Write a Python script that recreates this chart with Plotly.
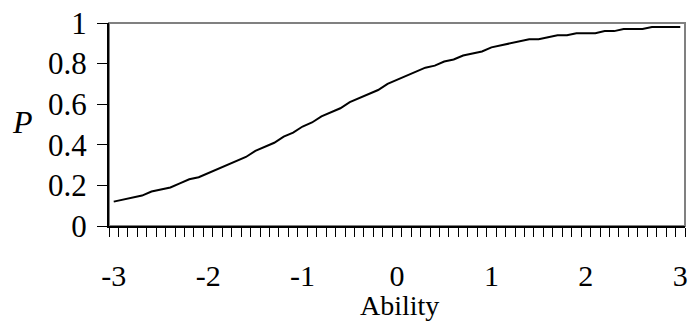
import plotly.graph_objects as go

ability = [round(-3 + 0.1 * i, 1) for i in range(61)]
prob = [0.12, 0.13, 0.14, 0.15, 0.17, 0.18, 0.19, 0.21, 0.23, 0.24,
        0.26, 0.28, 0.30, 0.32, 0.34, 0.37, 0.39, 0.41, 0.44, 0.46,
        0.49, 0.51, 0.54, 0.56, 0.58, 0.61, 0.63, 0.65, 0.67, 0.70,
        0.72, 0.74, 0.76, 0.78, 0.79, 0.81, 0.82, 0.84, 0.85, 0.86,
        0.88, 0.89, 0.90, 0.91, 0.92, 0.92, 0.93, 0.94, 0.94, 0.95,
        0.95, 0.95, 0.96, 0.96, 0.97, 0.97, 0.97, 0.98, 0.98, 0.98,
        0.98]
x_ticks = [-3, -2, -1, 0, 1, 2, 3]
y_ticks = [0, 0.2, 0.4, 0.6, 0.8, 1]
y_labels = ["0", "0.2", "0.4", "0.6", "0.8", "1"]

FONT = "Liberation Serif"

fig = go.Figure()
fig.add_trace(go.Scatter(x=ability, y=prob, mode="lines",
                         line=dict(color="black", width=2), showlegend=False))

fig.update_layout(
    width=691, height=322,
    margin=dict(l=109, r=3, t=23, b=96),
    paper_bgcolor="white", plot_bgcolor="white",
    font=dict(family=FONT, size=28, color="black"),
    xaxis=dict(
        range=[-3.05, 3.05], tickmode="array", tickvals=x_ticks,
        ticktext=[str(v) for v in x_ticks], ticks="",
        ticklabelstandoff=22,
        showgrid=False, zeroline=False,
        showline=True, linecolor="black", linewidth=2,
        minor=dict(tick0=-3.05, dtick=0.1, ticks="outside", ticklen=9,
                   tickcolor="black", tickwidth=1, showgrid=False),
        tickfont=dict(family=FONT, size=30),
    ),
    yaxis=dict(
        range=[0, 1], tickmode="array", tickvals=y_ticks, ticktext=y_labels,
        ticks="outside", ticklen=10, tickcolor="black", tickwidth=1,
        ticklabelstandoff=4,
        showgrid=False, zeroline=False,
        showline=True, linecolor="black", linewidth=2,
        tickfont=dict(family=FONT, size=31),
    ),
    shapes=[dict(type="rect", xref="paper", yref="paper", x0=0, x1=1, y0=0, y1=1,
                 line=dict(color="#808080", width=2), layer="below")],
    annotations=[
        dict(text="Ability", xref="paper", yref="paper", x=0.505, y=-0.305,
             xanchor="center", yanchor="top", showarrow=False,
             font=dict(family=FONT, size=28)),
        dict(text="<i>P</i>", xref="paper", yref="paper", x=-0.150, y=0.51,
             xanchor="center", yanchor="middle", showarrow=False,
             font=dict(family=FONT, size=32)),
    ],
)

fig.write_html("out.html")
